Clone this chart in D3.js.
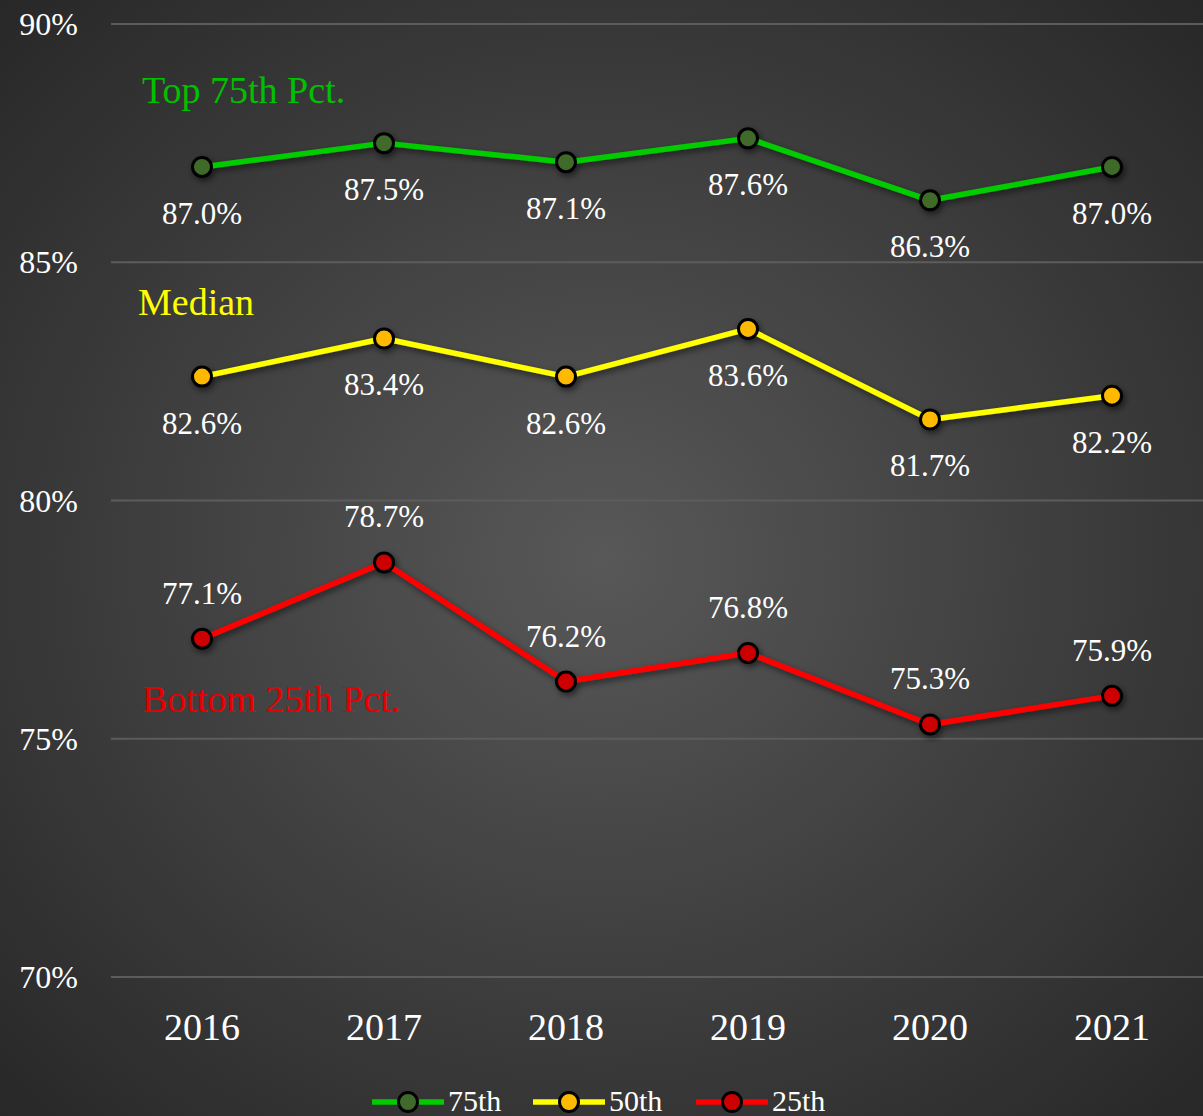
<!DOCTYPE html>
<html>
<head>
<meta charset="utf-8">
<script src="https://cdn.jsdelivr.net/npm/d3@7"></script>
<style>
  html, body { margin: 0; padding: 0; background: #333; }
  svg { display: block; }
  text { font-family: "Liberation Serif", "DejaVu Serif", serif; }
</style>
</head>
<body>
<svg width="1203" height="1116"></svg>
<script>
var years = ['2016', '2017', '2018', '2019', '2020', '2021'];
var p75 = [87.0, 87.5, 87.1, 87.6, 86.3, 87.0];
var p50 = [82.6, 83.4, 82.6, 83.6, 81.7, 82.2];
var p25 = [77.1, 78.7, 76.2, 76.8, 75.3, 75.9];
var yTicks = [70, 75, 80, 85, 90];

var series = [
  { key: '75th', name: 'Top 75th Pct.', values: p75, line: '#00cc00', fill: '#3f6a2c', text: '#00c000', labelPos: 'below', nameX: 142, nameY: 103 },
  { key: '50th', name: 'Median', values: p50, line: '#ffff00', fill: '#ffb900', text: '#ffff00', labelPos: 'below', nameX: 138, nameY: 315 },
  { key: '25th', name: 'Bottom 25th Pct.', values: p25, line: '#ff0000', fill: '#cc0000', text: '#e60000', labelPos: 'above', nameX: 142, nameY: 712 }
];

var svg = d3.select('svg'),
  width = +svg.attr('width'),
  height = +svg.attr('height');

var defs = svg.append('defs');
var grad = defs.append('radialGradient')
  .attr('id', 'bg')
  .attr('cx', '50%').attr('cy', '50%').attr('r', '70%');
grad.append('stop').attr('offset', '0%').attr('stop-color', '#585858');
grad.append('stop').attr('offset', '100%').attr('stop-color', '#282828');

var shadow = defs.append('filter').attr('id', 'shadow')
  .attr('x', '-20%').attr('y', '-20%').attr('width', '140%').attr('height', '140%');
shadow.append('feDropShadow')
  .attr('dx', 2).attr('dy', 3).attr('stdDeviation', 3)
  .attr('flood-color', '#000').attr('flood-opacity', 0.55);

svg.append('rect').attr('width', width).attr('height', height).attr('fill', 'url(#bg)');

var x = d3.scaleBand().domain(years).range([111, 1203]);
var y = d3.scaleLinear().domain([70, 90]).range([977, 24]);

// gridlines
svg.append('g').selectAll('line')
  .data(yTicks)
  .enter().append('line')
  .attr('x1', 111).attr('x2', width)
  .attr('y1', function (d) { return y(d); })
  .attr('y2', function (d) { return y(d); })
  .attr('stroke', '#5c5c5c').attr('stroke-width', 2);

// y tick labels
svg.append('g').selectAll('text')
  .data(yTicks)
  .enter().append('text')
  .attr('x', 78)
  .attr('y', function (d) { return y(d) + 11; })
  .attr('text-anchor', 'end')
  .attr('fill', '#fff')
  .attr('font-size', 32)
  .text(function (d) { return d + '%'; });

// x labels
svg.append('g').selectAll('text')
  .data(years)
  .enter().append('text')
  .attr('x', function (d) { return x(d) + x.bandwidth() / 2; })
  .attr('y', 1040)
  .attr('text-anchor', 'middle')
  .attr('fill', '#fff')
  .attr('font-size', 38)
  .text(function (d) { return d; });

var line = d3.line()
  .x(function (d, i) { return x(years[i]) + x.bandwidth() / 2; })
  .y(function (d) { return y(d); });

series.forEach(function (s) {
  var g = svg.append('g').attr('filter', 'url(#shadow)');
  g.append('path')
    .datum(s.values)
    .attr('d', line)
    .attr('fill', 'none')
    .attr('stroke', s.line)
    .attr('stroke-width', 5.5)
    .attr('stroke-linejoin', 'round');
  g.selectAll('circle')
    .data(s.values)
    .enter().append('circle')
    .attr('cx', function (d, i) { return x(years[i]) + x.bandwidth() / 2; })
    .attr('cy', function (d) { return y(d); })
    .attr('r', 9.5)
    .attr('fill', s.fill)
    .attr('stroke', '#000')
    .attr('stroke-width', 3);

  svg.append('g').selectAll('text')
    .data(s.values)
    .enter().append('text')
    .attr('x', function (d, i) { return x(years[i]) + x.bandwidth() / 2; })
    .attr('y', function (d) { return s.labelPos == 'below' ? y(d) + 57 : y(d) - 35; })
    .attr('text-anchor', 'middle')
    .attr('fill', '#fff')
    .attr('font-size', 31)
    .text(function (d) { return d.toFixed(1) + '%'; });

  svg.append('text')
    .attr('x', s.nameX).attr('y', s.nameY)
    .attr('fill', s.text)
    .attr('font-size', 38)
    .text(s.name);
});

// legend
var legendX = [372, 533, 696];
var leg = svg.append('g').selectAll('g')
  .data(series)
  .enter().append('g')
  .attr('transform', function (d, i) { return 'translate(' + legendX[i] + ',1102)'; });
leg.append('line')
  .attr('x1', 0).attr('x2', 72)
  .attr('stroke', function (d) { return d.line; })
  .attr('stroke-width', 5.5);
leg.append('circle')
  .attr('cx', 36).attr('r', 9.5)
  .attr('fill', function (d) { return d.fill; })
  .attr('stroke', '#000').attr('stroke-width', 3);
leg.append('text')
  .attr('x', 76).attr('y', 9)
  .attr('fill', '#fff')
  .attr('font-size', 30)
  .text(function (d) { return d.key; });
</script>
</body>
</html>
